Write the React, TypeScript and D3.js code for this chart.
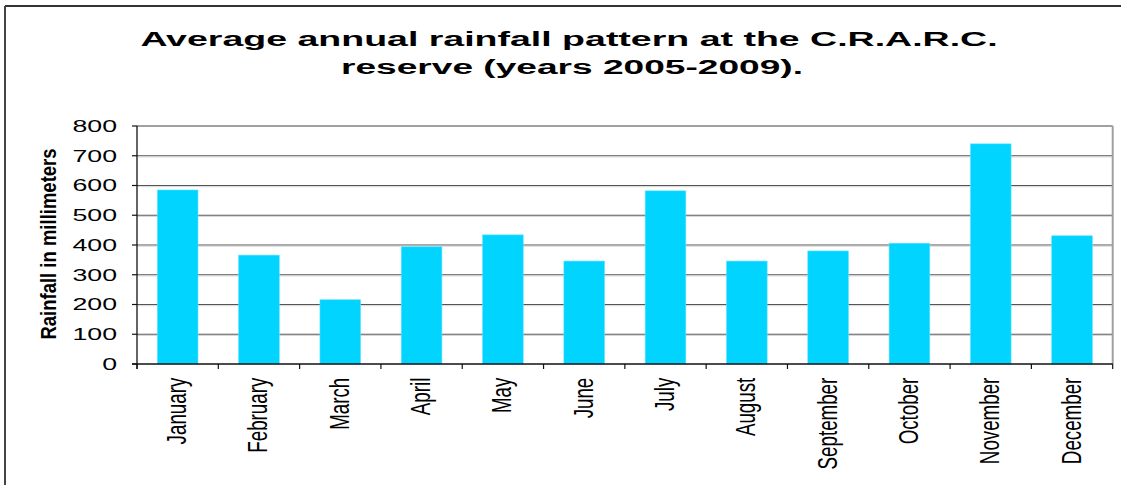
import React from "react";
import * as d3 from "d3";

const months = ["January","February","March","April","May","June","July","August","September","October","November","December"];
const rainfall = [585, 366, 216, 394, 434, 346, 582, 346, 380, 406, 740, 431];
const yTicks = [0, 100, 200, 300, 400, 500, 600, 700, 800];
const titleLines = ["Average annual rainfall pattern at the C.R.A.R.C.", "reserve (years 2005-2009)."];
const yAxisTitle = "Rainfall in millimeters";

const W = 1121, H = 485;
const plot = { left: 137, right: 1112.7, top: 126, bottom: 364 };
const FONT = "'Liberation Sans', Arial, Helvetica, sans-serif";

export default function App() {
  const x = d3.scaleBand<string>().domain(months).range([plot.left, plot.right]).paddingInner(0.5).paddingOuter(0.25);
  const y = d3.scaleLinear().domain([0, 800]).range([plot.bottom, plot.top]);
  const step = x.step();
  const boundaries = d3.range(months.length + 1).map((i) => plot.left + i * step);

  return (
    <svg width={W} height={H} style={{ position: "absolute", left: 0, top: 0, display: "block", background: "#fff" }}>
      <rect x={0} y={0} width={W} height={H} fill="#fff" />
      {/* outer frame */}
      <line x1={5} x2={W} y1={6} y2={6} stroke="#333" strokeWidth={2} />
      <line x1={5} x2={5} y1={6} y2={H} stroke="#444" strokeWidth={2} />

      {/* title */}
      <text transform="translate(569,46) scale(1.83,1)" textAnchor="middle" fontFamily={FONT} fontWeight="bold" fontSize={20.5} fill="#000">{titleLines[0]}</text>
      <text transform="translate(572,74) scale(1.81,1)" textAnchor="middle" fontFamily={FONT} fontWeight="bold" fontSize={20.5} fill="#000">{titleLines[1]}</text>

      {/* gridlines */}
      {yTicks.filter((t) => t > 0 && t < 800).map((t) => (
        <g key={"g" + t}>
          <line x1={plot.left} x2={plot.right} y1={y(t)} y2={y(t)} stroke="#555" strokeWidth={1.2} />
          <line x1={plot.left} x2={plot.right} y1={y(t) + 1.2} y2={y(t) + 1.2} stroke="#ccc" strokeWidth={0.8} />
        </g>
      ))}
      {/* plot border top & right */}
      <line x1={plot.left} x2={plot.right} y1={plot.top} y2={plot.top} stroke="#a0a0a0" strokeWidth={2} />
      <line x1={plot.right} x2={plot.right} y1={plot.top} y2={plot.bottom} stroke="#a0a0a0" strokeWidth={2} />

      {/* bars */}
      {months.map((m, i) => (
        <rect key={m} x={x(m)} y={y(rainfall[i])} width={x.bandwidth()} height={plot.bottom - y(rainfall[i])} fill="#00d4ff" stroke="#5fe3ff" strokeWidth={0.6} />
      ))}

      {/* axes */}
      <line x1={plot.left} x2={plot.left} y1={plot.top} y2={plot.bottom + 5} stroke="#111" strokeWidth={1.3} />
      <line x1={plot.left - 5} x2={plot.right} y1={plot.bottom} y2={plot.bottom} stroke="#111" strokeWidth={1.3} />
      {yTicks.map((t) => (
        <line key={"yt" + t} x1={plot.left - 5} x2={plot.left} y1={y(t)} y2={y(t)} stroke="#111" strokeWidth={1.2} />
      ))}
      {boundaries.map((bx, i) => (
        <line key={"xt" + i} x1={bx} x2={bx} y1={plot.bottom} y2={plot.bottom + 5} stroke="#111" strokeWidth={1.2} />
      ))}

      {/* y tick labels */}
      {yTicks.map((t) => (
        <text key={"yl" + t} transform={`translate(117,${y(t) + 5.9}) scale(1.64,1)`} textAnchor="end" fontFamily={FONT} fontSize={16.3} fill="#000">{t}</text>
      ))}

      {/* x labels */}
      {months.map((m) => (
        <text key={"xl" + m} transform={`translate(${(x(m) as number) + x.bandwidth() / 2 + 8.5},377.7) scale(1.49,1) rotate(-90)`} textAnchor="end" fontFamily={FONT} fontSize={18.75} fill="#000">{m}</text>
      ))}

      {/* y axis title */}
      <text transform={`translate(55.5,${(plot.top + plot.bottom) / 2 - 1}) scale(1.22,1) rotate(-90)`} textAnchor="middle" fontFamily={FONT} fontWeight="bold" fontSize={18.5} fill="#000">{yAxisTitle}</text>
    </svg>
  );
}
